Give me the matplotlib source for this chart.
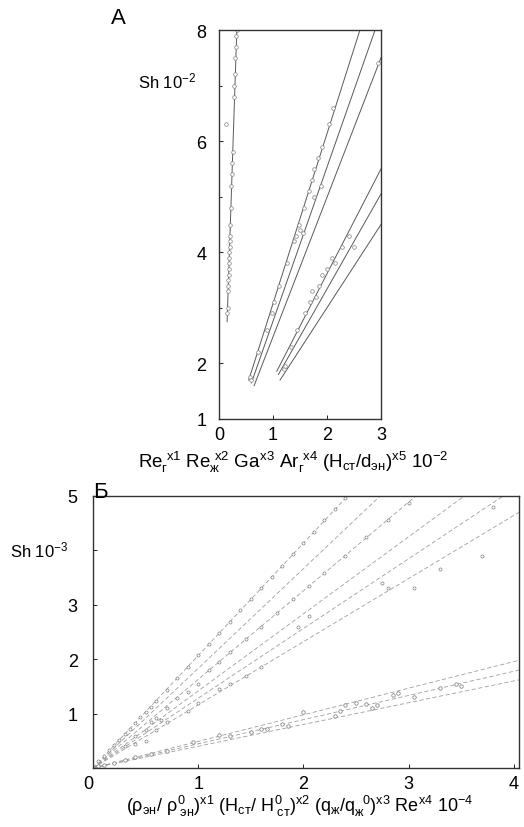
import numpy as np
import matplotlib.pyplot as plt

plt.rcParams['font.family'] = ['Liberation Sans', 'DejaVu Sans']
plt.rcParams['mathtext.fontset'] = 'custom'
plt.rcParams['mathtext.rm'] = 'Liberation Sans'
plt.rcParams['mathtext.it'] = 'Liberation Sans'
plt.rcParams['mathtext.bf'] = 'Liberation Sans'

# %%
# Panel A: fitted lines (x0, y0, x1, y1)
a_lines_x0 = [0.15, 0.55, 0.60, 0.65, 1.07, 1.10, 1.13]
a_lines_y0 = [2.75, 1.70, 1.65, 1.60, 1.86, 1.80, 1.70]
a_lines_x1 = [0.33, 2.61, 2.89, 3.00, 3.00, 3.00, 3.00]
a_lines_y1 = [8.00, 8.00, 8.00, 7.50, 5.50, 5.05, 4.50]

# Panel A: measured points
a_pts_x = [0.15, 0.16, 0.16, 0.17, 0.17, 0.18, 0.18, 0.18, 0.19, 0.19, 0.20, 0.20,
           0.21, 0.21, 0.22, 0.23, 0.24, 0.24, 0.25, 0.13, 0.28, 0.28, 0.29, 0.30,
           0.31, 0.32, 0.33,
           0.57, 0.60, 0.73, 0.88, 0.98, 1.02, 1.12, 1.26, 1.38, 1.42, 1.48, 1.50,
           1.58, 1.66, 1.72, 1.76, 1.84, 1.90, 2.04, 2.12, 2.95, 1.55, 1.75, 1.88,
           1.20, 1.23, 1.33, 1.45, 1.60, 1.68, 1.72, 1.85, 1.90, 2.00, 2.10, 2.28,
           2.40, 2.50, 1.80, 2.15]
a_pts_y = [2.90, 3.00, 3.30, 3.40, 3.50, 3.60, 3.70, 3.80, 3.90, 4.00, 4.10, 4.20,
           4.30, 4.50, 4.80, 5.20, 5.40, 5.60, 5.80, 6.30, 6.80, 7.00, 7.20, 7.50,
           7.70, 7.90, 8.00,
           1.75, 1.70, 2.20, 2.60, 2.90, 3.10, 3.40, 3.80, 4.20, 4.30, 4.50, 4.40,
           4.80, 5.10, 5.30, 5.50, 5.70, 5.90, 6.30, 6.60, 7.40, 4.35, 5.00, 5.20,
           1.90, 1.95, 2.30, 2.60, 2.90, 3.10, 3.30, 3.40, 3.60, 3.70, 3.90, 4.10,
           4.30, 4.10, 3.20, 3.80]

# Panel B: lines through origin (end x, end y)
b_lines_x1 = [2.42, 2.73, 3.07, 3.53, 3.90, 4.05, 4.05, 4.05, 4.05]
b_lines_y1 = [5.00, 5.00, 5.00, 5.00, 5.00, 4.70, 1.98, 1.80, 1.62]

# Panel B: measured points (upper fan)
b_up_x = [0.05, 0.10, 0.15, 0.20, 0.25, 0.30, 0.35, 0.40, 0.45, 0.50, 0.55, 0.60,
          0.70, 0.80, 0.90, 1.00, 1.10, 1.20, 1.30, 1.40, 1.50, 1.60, 1.70, 1.80,
          1.90, 2.00, 2.10, 2.20, 2.30, 2.40,
          0.30, 0.40, 0.50, 0.55, 0.60, 0.65, 0.70, 0.80, 0.90, 1.00, 1.10, 1.20,
          1.30, 1.45, 1.60, 1.75, 1.90, 2.05, 2.20, 2.40, 2.60, 2.80, 3.00,
          0.40, 0.50, 0.60, 0.70, 0.90, 1.00, 1.20, 1.30, 1.45, 1.60, 1.95, 2.05,
          2.75, 2.80, 3.05, 3.30, 3.70, 3.80]
b_up_y = [0.12, 0.22, 0.33, 0.42, 0.52, 0.62, 0.72, 0.83, 0.93, 1.03, 1.13, 1.24,
          1.44, 1.66, 1.86, 2.07, 2.28, 2.48, 2.69, 2.90, 3.10, 3.31, 3.52, 3.72,
          3.93, 4.14, 4.34, 4.55, 4.76, 4.97,
          0.40, 0.58, 0.70, 0.85, 0.92, 0.88, 1.10, 1.28, 1.40, 1.55, 1.80, 1.95,
          2.13, 2.38, 2.60, 2.85, 3.10, 3.35, 3.58, 3.90, 4.25, 4.55, 4.88,
          0.45, 0.50, 0.70, 0.85, 1.05, 1.20, 1.45, 1.55, 1.70, 1.85, 2.60, 2.80,
          3.40, 3.30, 3.30, 3.65, 3.90, 4.80]

# Panel B: measured points (lower group)
b_lo_x = [0.05, 0.10, 0.20, 0.30, 0.40, 0.55, 0.70, 0.95, 1.20, 1.30, 1.50, 1.60,
          1.65, 1.80, 1.85, 2.00, 2.30, 2.35, 2.40, 2.50, 2.60, 2.65, 2.70, 2.85,
          2.90, 3.05, 3.30, 3.45, 3.50]
b_lo_y = [0.03, 0.05, 0.10, 0.14, 0.20, 0.25, 0.32, 0.47, 0.60, 0.58, 0.66, 0.72,
          0.72, 0.80, 0.78, 1.03, 0.95, 1.05, 1.15, 1.20, 1.18, 1.10, 1.15, 1.35,
          1.37, 1.30, 1.47, 1.55, 1.50]

# %%
fig = plt.figure(figsize=(5.24, 8.28), dpi=100)

# --- Panel A ---
axA = fig.add_axes([219 / 524, 1 - 420 / 828, 162 / 524, 389 / 828])
for x0, y0, x1, y1 in zip(a_lines_x0, a_lines_y0, a_lines_x1, a_lines_y1):
    axA.plot([x0, x1], [y0, y1], color='0.35', lw=0.7)
axA.plot(a_pts_x, a_pts_y, linestyle='none', marker='o', markersize=2.6,
         markerfacecolor='white', markeredgecolor='0.5', markeredgewidth=0.5)
axA.set_xlim(0, 3)
axA.set_ylim(1, 8)
axA.set_xticks([0, 1, 2, 3])
axA.set_yticks([1, 2, 4, 6, 8])
axA.set_yticks([3, 5, 7], minor=True)
axA.tick_params(direction='in', length=3, width=0.6, labelsize=13)
axA.tick_params(axis='y', pad=9)
axA.tick_params(axis='x', pad=5)
axA.tick_params(which='minor', direction='in', length=2, width=0.6)
for s in axA.spines.values():
    s.set_linewidth(1.0)
    s.set_color('0.2')

fig.text(118 / 524, 1 - 18 / 828, 'А', fontsize=16, ha='center', va='center')
fig.text(138 / 524, 1 - 81 / 828, r'Sh 10$^{-2}$', fontsize=12, ha='left', va='center')
fig.text(293 / 524, 1 - 462 / 828,
         r'$Re_г^{\ x1}\ Re_ж^{\ x2}\ Ga^{x3}\ Ar_г^{\ x4}\ (H_{ст}/d_{эн})^{x5}\ 10^{-2}$',
         fontsize=13.5, ha='center', va='center')

# --- Panel B ---
axB = fig.add_axes([93 / 524, 1 - 769 / 828, 426 / 524, 272 / 828])
for x1, y1 in zip(b_lines_x1, b_lines_y1):
    axB.plot([0, x1], [0, y1], color='0.62', lw=0.6, linestyle=(0, (5, 3)))
axB.plot(b_up_x, b_up_y, linestyle='none', marker='o', markersize=2.2,
         markerfacecolor='white', markeredgecolor='0.5', markeredgewidth=0.5)
axB.plot(b_lo_x, b_lo_y, linestyle='none', marker='o', markersize=2.5,
         markerfacecolor='white', markeredgecolor='0.45', markeredgewidth=0.5)
axB.set_xlim(0, 4.05)
axB.set_ylim(0, 5)
axB.set_xticks([0, 1, 2, 3, 4])
axB.set_yticks([1, 2, 3, 4, 5])
axB.set_yticklabels(['1', '2', '3', '', '5'])
axB.tick_params(direction='in', length=3, width=0.6, labelsize=13)
axB.tick_params(axis='y', pad=11)
axB.tick_params(axis='x', pad=5)
axB.get_xticklabels()[0].set_horizontalalignment('right')
for s in axB.spines.values():
    s.set_linewidth(1.0)
    s.set_color('0.2')

fig.text(100 / 524, 1 - 493 / 828, 'Б', fontsize=16, ha='center', va='center')
fig.text(10 / 524, 1 - 550 / 828, r'Sh 10$^{-3}$', fontsize=12, ha='left', va='center')
fig.text(300 / 524, 1 - 806 / 828,
         r'$(\rho_{эн}/\ \rho^0_{\ эн})^{x1}\ (H_{ст}/\ H^0_{\ ст})^{x2}\ (q_ж/q_ж^{\ \ 0})^{x3}\ Re^{x4}\ 10^{-4}$',
         fontsize=13, ha='center', va='center')

fig.savefig('out.png', dpi=100)
